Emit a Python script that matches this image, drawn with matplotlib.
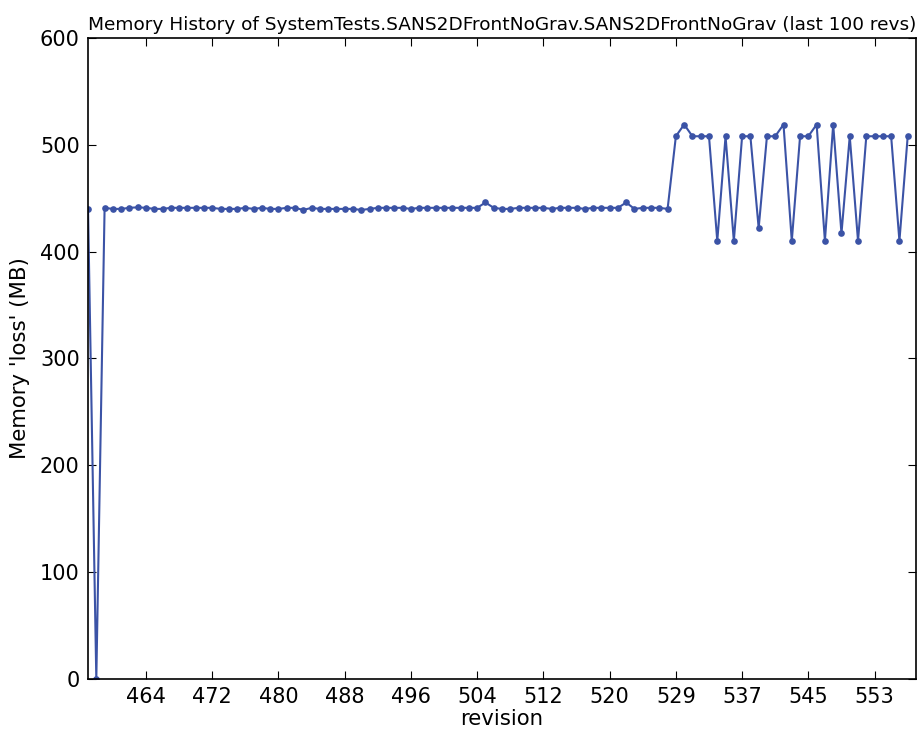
"""
Memory history plot for one system test (last 100 revs)
"""
import matplotlib
matplotlib.use("Agg")
import matplotlib.pyplot as plt
import numpy as np


# memory values (MB), one per revision, oldest first
flat_part = [440, 0, 441, 440, 440, 441, 441.5, 441, 440, 440,
             441, 441, 441, 441, 441, 441, 440, 440, 440, 441,
             440, 441, 440, 440, 441, 441, 439, 441, 440, 440,
             440, 440, 440, 439, 440, 441, 441, 441, 441, 440,
             441, 441, 441, 441, 441, 441, 441, 441, 446, 441,
             440, 440, 441, 441, 441, 441, 440, 441, 441, 441,
             440, 441, 441, 441, 441, 446, 440, 441, 441, 441,
             440]
jumpy_part = [508, 519, 508, 508, 508, 410, 508, 410, 508, 508,
              422, 508, 508, 519, 410, 508, 508, 519, 410, 519,
              417, 508, 410, 508, 508, 508, 508, 410, 508]
memory = flat_part + jumpy_part

# revision labels shown on the x axis
tick_index = [7, 15, 23, 31, 39, 47, 55, 63, 71, 79, 87, 95]
tick_labels = ['464', '472', '480', '488', '496', '504',
               '512', '520', '529', '537', '545', '553']

x = np.arange(len(memory))

fig = plt.figure(figsize=(9.18, 7.33), dpi=100)
ax = fig.add_axes([0.0959, 0.0737, 0.9019, 0.8745])

ax.plot(x, memory, '-o', color='#3b53a6', linewidth=1.5,
        markersize=4.8, markeredgewidth=0)

ax.set_xlim(0, 100)
ax.set_ylim(0, 600)
ax.set_xticks(tick_index)
ax.set_xticklabels(tick_labels)
ax.set_yticks(range(0, 601, 100))

# old style ticks: inside, on every side
ax.tick_params(direction='in', top=True, right=True, length=6,
               labelsize=15, pad=6)
for s in ax.spines.values():
    s.set_linewidth(1.2)

ax.set_xlabel('revision', fontsize=15.3, labelpad=1)
ax.set_ylabel("Memory 'loss' (MB)", fontsize=15.3, labelpad=7)
ax.set_title('Memory History of SystemTests.SANS2DFrontNoGrav.SANS2DFrontNoGrav (last 100 revs)',
             fontsize=13.3, pad=6)

fig.savefig('out.png', dpi=100, facecolor='white')
